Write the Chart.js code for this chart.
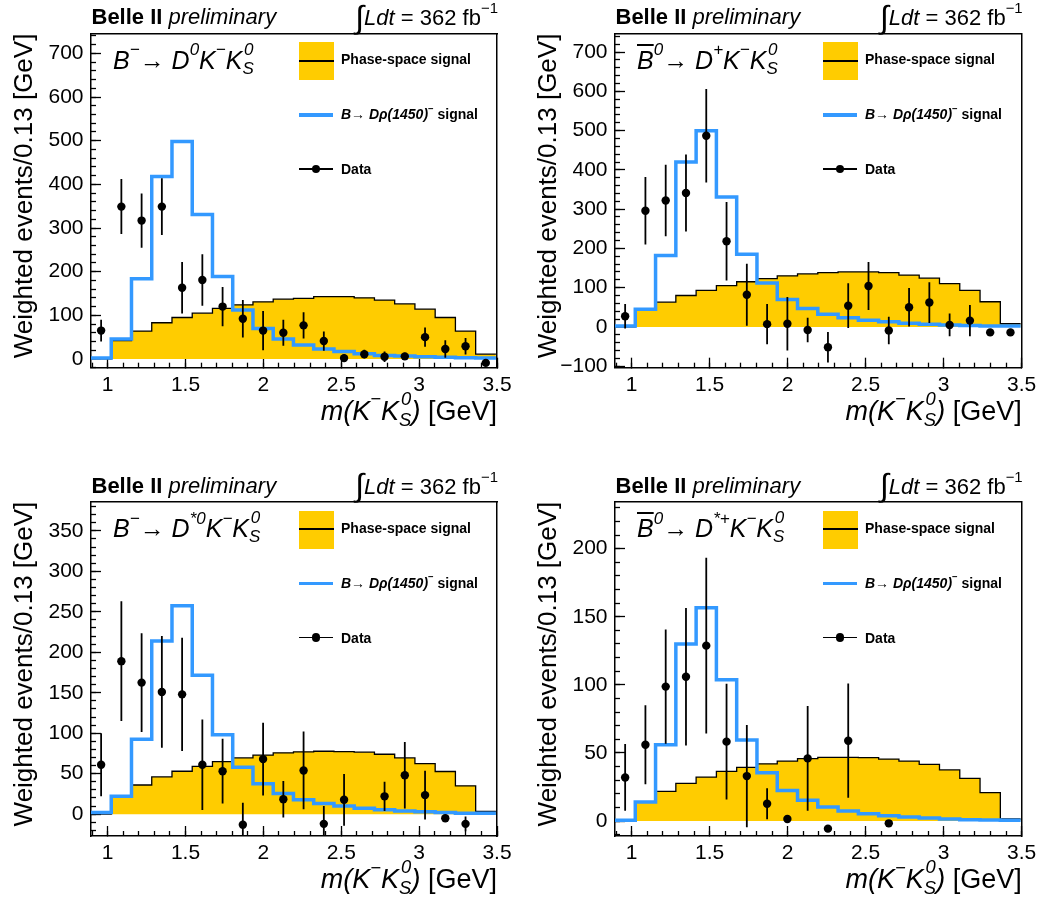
<!DOCTYPE html>
<html>
<head>
<meta charset="utf-8">
<title>Belle II preliminary – m(K−K0S) distributions</title>
<script src="https://cdn.jsdelivr.net/npm/chart.js@4.4.1/dist/chart.umd.min.js"></script>
<style>
  html, body { margin: 0; padding: 0; background: #ffffff; }
  #root { position: relative; width: 1041px; height: 907px; overflow: hidden;
          font-family: "Liberation Sans", Arial, Helvetica, sans-serif; color: #000; }
  .cw { position: absolute; }
  .cw canvas { display: block; }
  .t { position: absolute; white-space: nowrap; line-height: 1; }
  .sup { font-size: 0.68em; position: relative; top: -0.8em; }
  .stk { display: inline-block; position: relative; width: 0.46em; height: 0; }
  .stk .u { position: absolute; left: 0.1em; bottom: 0.65em; font-size: 0.68em; line-height: 1; }
  .stk .d { position: absolute; left: 0; top: -0.52em; font-size: 0.68em; line-height: 1; }
  .ob { text-decoration: overline; text-decoration-thickness: 1.5px; }
  .int { font-size: 1.45em; line-height: 0; position: relative; top: 0.08em; font-style: normal; }
  .box { position: absolute; }
  .ytitle { position: absolute; white-space: nowrap; line-height: 1; text-align: right;
            transform-origin: 0 0; transform: rotate(-90deg); }
</style>
</head>
<body>
<div id="root"></div>
<script>
// ---------------- data ----------------
const binEdges   = [0.893, 1.023, 1.153, 1.283, 1.413, 1.543, 1.673, 1.803, 1.933, 2.063, 2.193,
                    2.323, 2.453, 2.583, 2.713, 2.843, 2.973, 3.103, 3.233, 3.363, 3.493];
const binCenters = [0.958, 1.088, 1.218, 1.348, 1.478, 1.608, 1.738, 1.868, 1.998, 2.128,
                    2.258, 2.388, 2.518, 2.648, 2.778, 2.908, 3.038, 3.168, 3.298, 3.428];
const xTickValues = [1, 1.5, 2, 2.5, 3, 3.5];

// Panel 1: B- -> D0 K- KS
const phaseSpace1 = [0, 42, 64, 83, 95, 105, 116, 124, 131, 137, 139, 143, 143, 140, 135, 126, 114, 95, 64, 11];
const rho1        = [2, 46, 184, 418, 498, 331, 189, 112, 70, 46, 32, 23, 17, 12, 8, 7, 5, 4, 3, 2];
const data1       = [65, 349, 317, 349, 163, 181, 120, 92, 65, 60, 77, 41, 2, 11, 5, 6, 50, 23, 29, -9];
const err1        = [25, 63, 62, 65, 59, 59, 45, 43, 45, 30, 30, 22, 8, 10, 12, 8, 22, 20, 19, 4];
const yTicks1     = [0, 100, 200, 300, 400, 500, 600, 700];

// Panel 2: B0bar -> D+ K- KS
const phaseSpace2 = [0, 43, 63, 80, 93, 105, 115, 123, 130, 135, 138, 140, 140, 138, 132, 124, 110, 93, 64, 8];
const rho2        = [2, 45, 182, 420, 500, 331, 185, 112, 70, 47, 32, 23, 17, 13, 9, 7, 5, 3.5, 2.5, 2];
const data2       = [27, 296, 322, 341, 487, 218, 82, 7, 8, -8, -52, 54, 104, -9, 50, 62, 5, 16, -14, -14];
const err2        = [31, 86, 91, 98, 119, 100, 79, 51, 68, 31, 39, 57, 61, 35, 49, 52, 29, 40, 5, 5];
const yTicks2     = [-100, 0, 100, 200, 300, 400, 500, 600, 700];

// Panel 3: B- -> D*0 K- KS
const phaseSpace3 = [0, 22, 36, 46, 53, 59, 65, 69.5, 73, 75.7, 77, 77.7, 77.3, 76.5, 74, 69.5, 62.5, 52.7, 35, 3.3];
const rho3        = [2, 22, 92.5, 214, 257.5, 171.5, 98, 58, 37.4, 25.5, 17.7, 13, 10, 7.4, 5.3, 4, 3, 2, 1.2, 1];
const data3       = [61, 189, 162.5, 151, 148, 61, 53, -13, 68, 18.5, 54, -12, 17.7, null, 22, 48, 23.5, -5, -12, null];
const err3        = [39, 74, 61, 69, 70, 56, 40, 27, 45, 22.6, 48, 22, 32, null, 18, 41, 30, 3, 9, null];
const yTicks3     = [0, 50, 100, 150, 200, 250, 300, 350];

// Panel 4: B0bar -> D*+ K- KS
const phaseSpace4 = [0, 13.7, 21.8, 27.7, 32.3, 36.5, 39.4, 42, 44, 45.8, 46.8, 46.8, 46.5, 45.5, 44, 41.6, 37.5, 31.3, 20.8, 1.5];
const rho4        = [0.5, 14, 56, 130, 156.7, 103.8, 59.5, 35.5, 22.5, 15.2, 10.3, 7.3, 5.4, 3.9, 2.9, 2.2, 1.5, 1, 0.7, 0.5];
const data4       = [32, 56, 98.7, 106, 128.8, 58.3, 33, 12.7, 1.5, 46, -5.6, 59, null, -1.7, null, null, null, null, null, null];
const err4        = [24.5, 29, 42, 50.5, 64.5, 42.5, 37.6, 11.4, 1, 38.5, 1, 42, null, 1, null, null, null, null, null, null];
const yTicks4     = [0, 50, 100, 150, 200];

// ---------------- text ----------------
const STK = '<span class="stk"><span class="u">0</span><span class="d">S</span></span>';
const procLabel1 = 'B<span class="sup">\u2212</span>\u2192 D<span class="sup">0</span>K<span class="sup">\u2212</span>K' + STK;
const procLabel2 = '<span class="ob">B</span><span class="sup">0</span>\u2192 D<span class="sup">+</span>K<span class="sup">\u2212</span>K' + STK;
const procLabel3 = 'B<span class="sup">\u2212</span>\u2192 D<span class="sup">*0</span>K<span class="sup">\u2212</span>K' + STK;
const procLabel4 = '<span class="ob">B</span><span class="sup">0</span>\u2192 D<span class="sup">*+</span>K<span class="sup">\u2212</span>K' + STK;
const titleHTML  = '<b>Belle II</b> <i>preliminary</i>';
const lumiHTML   = '<span class="int">\u222B</span><i>Ldt</i> = 362 fb<span class="sup">\u22121</span>';
const xTitleHTML = '<i>m(K<span class="sup">\u2212</span>K' + STK + ')</i> [GeV]';
const yTitleText = 'Weighted events/0.13 [GeV]';
const legendPS   = 'Phase-space signal';
const legendRho  = '<i>B\u2192 D\u03C1(1450)</i><span class="sup">\u2212</span> signal';
const legendData = 'Data';

// ---------------- layout ----------------
const panels = [
  { ps: phaseSpace1, rho: rho1, dat: data1, err: err1, yTicks: yTicks1, yMin: -20, yMax: 746, yMinor: 20, label: procLabel1,
    frame: { l: 91, t: 33.3, r: 497, b: 367.7 }, box: { x: 0, y: 0, w: 520, h: 450 } },
  { ps: phaseSpace2, rho: rho2, dat: data2, err: err2, yTicks: yTicks2, yMin: -104, yMax: 748, yMinor: 20, label: procLabel2,
    frame: { l: 615, t: 33.3, r: 1021.7, b: 367.7 }, box: { x: 520, y: 0, w: 521, h: 450 } },
  { ps: phaseSpace3, rho: rho3, dat: data3, err: err3, yTicks: yTicks3, yMin: -27, yMax: 386, yMinor: 10, label: procLabel3,
    frame: { l: 91, t: 501.7, r: 497, b: 836 }, box: { x: 0, y: 455, w: 520, h: 452 } },
  { ps: phaseSpace4, rho: rho4, dat: data4, err: err4, yTicks: yTicks4, yMin: -11, yMax: 234.5, yMinor: 10, label: procLabel4,
    frame: { l: 615, t: 501.7, r: 1021.7, b: 836 }, box: { x: 520, y: 455, w: 521, h: 452 } }
];
const xMin = 0.893, xMax = 3.5;
const FONT = "'Liberation Sans', Arial, Helvetica, sans-serif";
const BLACK = '#000000', YELLOW = '#ffcc00', BLUE = '#3399ff';
const root = document.getElementById('root');

const fmtTick = v => (v < 0 ? '\u2212' + Math.abs(v) : String(v));
function histData(vals) {
  return binEdges.map((e, i) => ({ x: e, y: vals[Math.min(i, vals.length - 1)] }));
}
function errData(vals, errs) {
  const out = [];
  binCenters.forEach((c, i) => {
    if (vals[i] === null) return;
    out.push({ x: c, y: vals[i] - errs[i] }, { x: c, y: vals[i] + errs[i] }, { x: c, y: null });
  });
  return out;
}
function pointData(vals) {
  return binCenters.map((c, i) => ({ x: c, y: vals[i] })).filter(p => p.y !== null);
}

function makeChart(spec) {
  const f = spec.frame, b = spec.box;
  const wrap = document.createElement('div');
  wrap.className = 'cw';
  wrap.style.left = b.x + 'px'; wrap.style.top = b.y + 'px';
  wrap.style.width = b.w + 'px'; wrap.style.height = b.h + 'px';
  const cv = document.createElement('canvas');
  wrap.appendChild(cv);
  root.appendChild(wrap);
  const YW = 70, XH = 40;
  const pad = { left: f.l - b.x - YW, right: (b.x + b.w) - f.r, top: f.t - b.y, bottom: (b.y + b.h) - f.b - XH };
  const noPadH = h => a => { a.height = h; a.paddingLeft = 0; a.paddingRight = 0; a.paddingTop = 0; a.paddingBottom = 0; };
  const noPadW = w => a => { a.width = w; a.paddingLeft = 0; a.paddingRight = 0; a.paddingTop = 0; a.paddingBottom = 0; };
  const border = { display: true, color: BLACK, width: 1.5 };
  const tickFont = { family: FONT, size: 21 };

  new Chart(cv, {
    type: 'line',
    data: {
      datasets: [
        { label: legendData, type: 'scatter', xAxisID: 'x', yAxisID: 'y', data: pointData(spec.dat),
          pointRadius: 4.2, pointBackgroundColor: BLACK, pointBorderWidth: 0, showLine: false, order: 0 },
        { label: 'Data uncertainty', xAxisID: 'x', yAxisID: 'y', data: errData(spec.dat, spec.err),
          borderColor: BLACK, borderWidth: 1.8, pointRadius: 0, spanGaps: false, fill: false, order: 1 },
        { label: 'B→Dρ(1450) signal', xAxisID: 'x', yAxisID: 'y', data: histData(spec.rho), stepped: true,
          borderColor: BLUE, borderWidth: 3.5, pointRadius: 0, fill: false, order: 2 },
        { label: legendPS, xAxisID: 'x', yAxisID: 'y', data: histData(spec.ps), stepped: true,
          borderColor: BLACK, borderWidth: 1.3, backgroundColor: YELLOW, pointRadius: 0, fill: 'origin', order: 3 }
      ]
    },
    options: {
      responsive: true, maintainAspectRatio: false, animation: false, events: [], devicePixelRatio: 1,
      layout: { padding: pad, autoPadding: false },
      plugins: { legend: { display: false }, tooltip: { enabled: false } },
      elements: { line: { tension: 0 } },
      scales: {
        x: { type: 'linear', axis: 'x', position: 'bottom', weight: 1, min: xMin, max: xMax,
             afterBuildTicks: a => { a.ticks = xTickValues.map(v => ({ value: v })); },
             afterFit: noPadH(XH),
             ticks: { font: tickFont, color: BLACK, padding: 15, autoSkip: false, maxRotation: 0, minRotation: 0, callback: fmtTick },
             grid: { drawOnChartArea: false, drawTicks: true, tickLength: -10, tickColor: BLACK, tickWidth: 1.3, color: BLACK },
             border: border },
        xm: { type: 'linear', axis: 'x', position: 'bottom', weight: 0, min: xMin, max: xMax,
              afterFit: noPadH(0),
              ticks: { display: false, stepSize: 0.1, includeBounds: false, autoSkip: false },
              grid: { drawOnChartArea: false, drawTicks: true, tickLength: -5, tickColor: BLACK, tickWidth: 1.3 },
              border: { display: false } },
        xt: { type: 'linear', axis: 'x', position: 'top', min: xMin, max: xMax,
              afterFit: noPadH(0),
              ticks: { display: false }, grid: { display: false, drawTicks: false }, border: border },
        y: { type: 'linear', axis: 'y', position: 'left', weight: 1, min: spec.yMin, max: spec.yMax,
             afterBuildTicks: a => { a.ticks = spec.yTicks.map(v => ({ value: v })); },
             afterFit: noPadW(YW),
             ticks: { font: tickFont, color: BLACK, padding: 17.5, autoSkip: false, callback: fmtTick },
             grid: { drawOnChartArea: false, drawTicks: true, tickLength: -10, tickColor: BLACK, tickWidth: 1.3, color: BLACK },
             border: border },
        ym: { type: 'linear', axis: 'y', position: 'left', weight: 0, min: spec.yMin, max: spec.yMax,
              afterFit: noPadW(0),
              ticks: { display: false, stepSize: spec.yMinor, includeBounds: false, autoSkip: false },
              grid: { drawOnChartArea: false, drawTicks: true, tickLength: -5, tickColor: BLACK, tickWidth: 1.3 },
              border: { display: false } },
        yr: { type: 'linear', axis: 'y', position: 'right', min: spec.yMin, max: spec.yMax,
              afterFit: noPadW(0),
              ticks: { display: false }, grid: { display: false, drawTicks: false }, border: border }
      }
    }
  });
}

function addText(html, o) {
  const d = document.createElement('div');
  d.className = 't';
  d.innerHTML = html;
  d.style.fontSize = o.size + 'px';
  if (o.bold) d.style.fontWeight = 'bold';
  if (o.italic) d.style.fontStyle = 'italic';
  d.style.top = (o.baseline - 0.8465 * o.size) + 'px';
  if (o.right !== undefined) d.style.right = (1041 - o.right) + 'px';
  else d.style.left = o.left + 'px';
  root.appendChild(d);
  return d;
}
function addBox(l, t, w, h, css) {
  const d = document.createElement('div');
  d.className = 'box';
  d.style.cssText = `left:${l}px;top:${t}px;width:${w}px;height:${h}px;` + css;
  root.appendChild(d);
}
function addDecor(spec) {
  const f = spec.frame;
  addText(titleHTML, { left: f.l + 0.5, baseline: f.t - 8.3, size: 22 });
  addText(lumiHTML, { right: f.r + 1, baseline: f.t - 7.3, size: 22 });
  addText(spec.label, { left: f.l + 22, baseline: f.t + 35.7, size: 25, italic: true });
  // legend
  addBox(f.l + 208, f.t + 9, 35, 38, `background:${YELLOW};`);
  addBox(f.l + 208, f.t + 26.7, 35, 1.5, `background:${BLACK};`);
  addText(legendPS, { left: f.l + 250, baseline: f.t + 31, size: 14, bold: true });
  addBox(f.l + 208, f.t + 80, 34, 3.5, `background:${BLUE};`);
  addText(legendRho, { left: f.l + 250, baseline: f.t + 86, size: 14, bold: true });
  addBox(f.l + 208, f.t + 135, 34, 1.5, `background:${BLACK};`);
  addBox(f.l + 221, f.t + 131.7, 8.4, 8.4, `background:${BLACK};border-radius:50%;`);
  addText(legendData, { left: f.l + 250, baseline: f.t + 140.7, size: 14, bold: true });
  // axis titles
  addText(xTitleHTML, { right: f.r, baseline: f.b + 53.3, size: 27 });
  const yt = document.createElement('div');
  yt.className = 'ytitle';
  yt.textContent = yTitleText;
  yt.style.fontSize = '26px';
  yt.style.width = (f.b - f.t) + 'px';
  yt.style.left = (f.l - 81) + 'px';
  yt.style.top = f.b + 'px';
  root.appendChild(yt);
}

panels.forEach(p => { makeChart(p); addDecor(p); });
</script>
</body>
</html>
